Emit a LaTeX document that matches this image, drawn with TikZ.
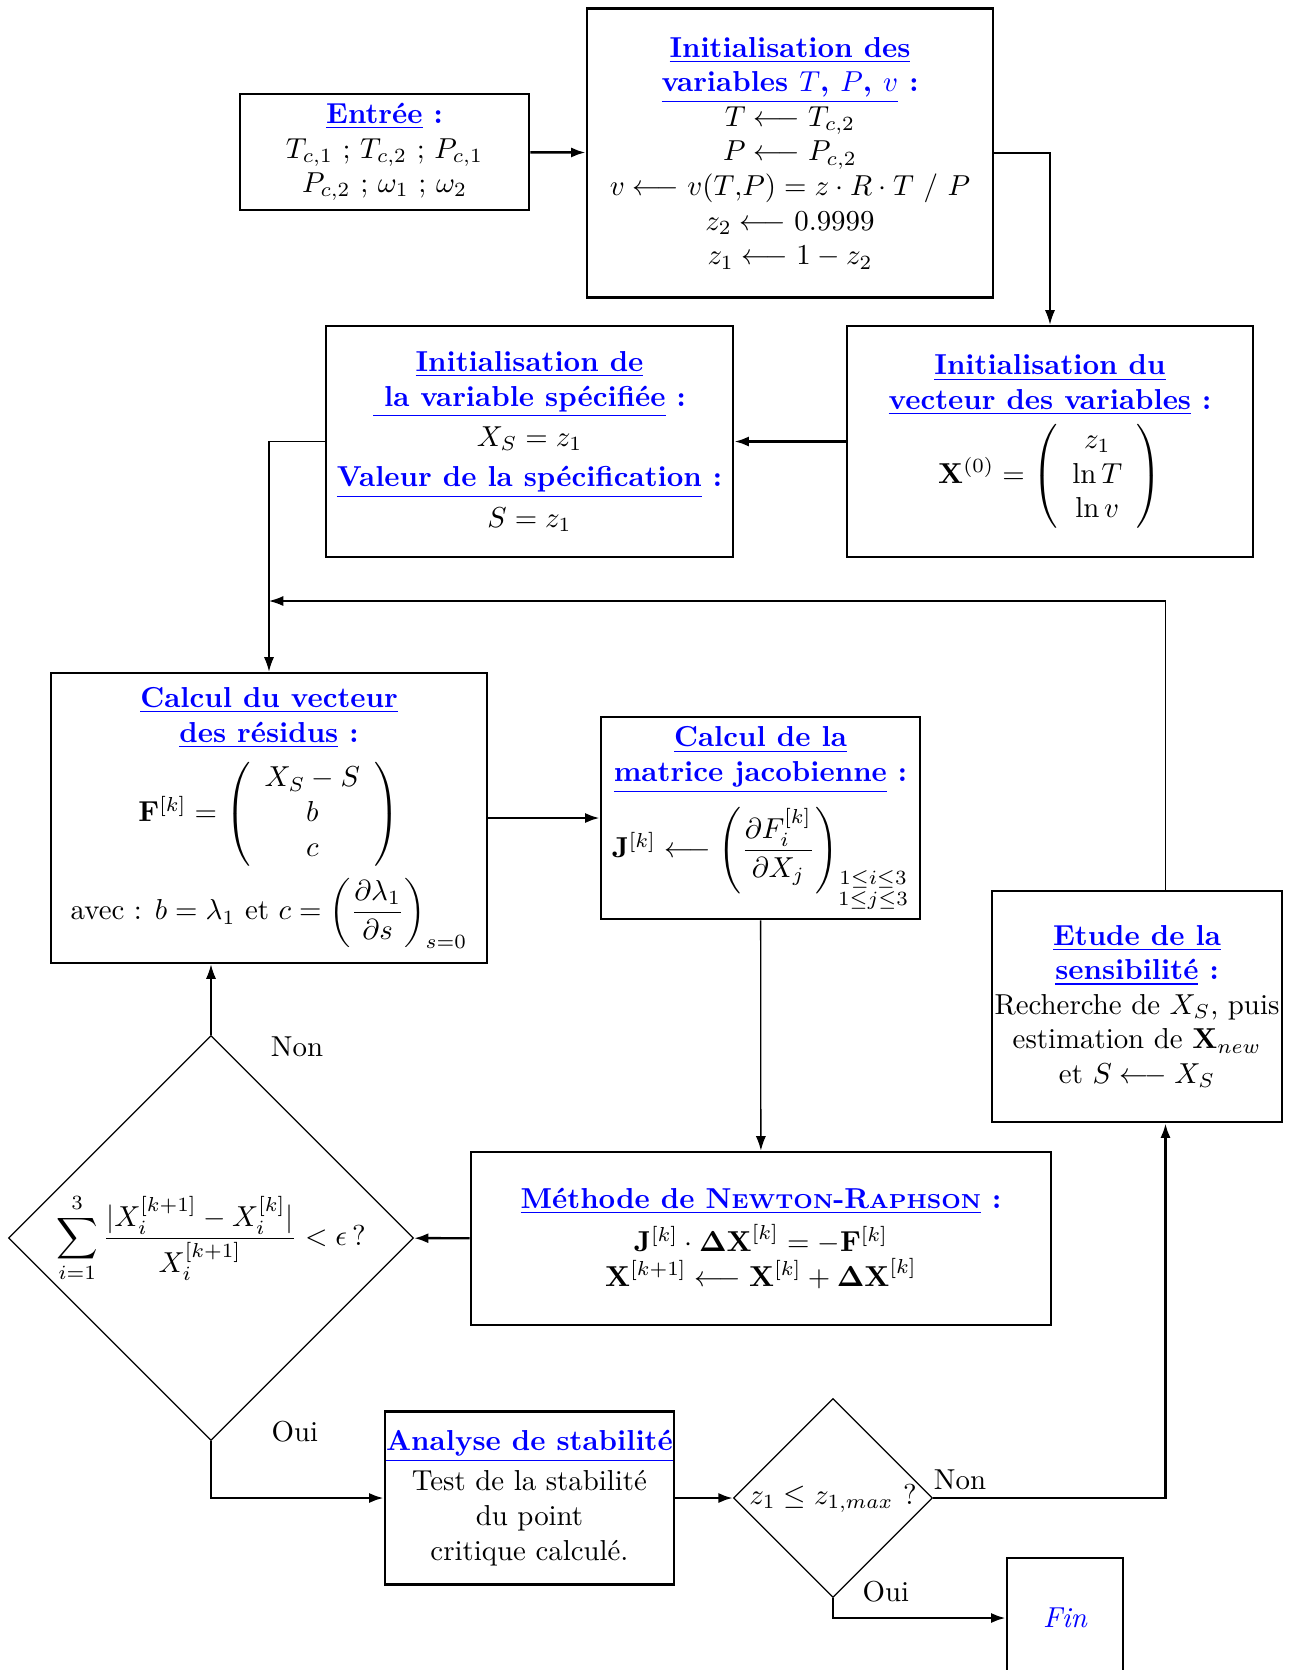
\documentclass[tikz,border=0pt]{standalone}
\usepackage{amsmath,amssymb}
\usetikzlibrary{positioning,arrows.meta,shapes.geometric}
\newcommand{\px}{0.3466pt}
\newcommand{\titre}[1]{\textcolor{blue}{\bfseries\underline{#1}}}
\newcommand{\deuxpts}{\textcolor{blue}{\bfseries\ :}}

\begin{document}
\begin{tikzpicture}[x=\px, y=-\px, >={Latex[length=5pt,width=3.5pt]},
  boite/.style={draw,line width=1pt,align=center,inner sep=2pt},
  losange/.style={draw,diamond,aspect=1,inner sep=0pt,line width=0.45pt},
  fleche/.style={->,line width=0.45pt},
  grosse/.style={->,line width=0.85pt}]
\useasboundingbox (0,0) rectangle (1289,1670);
% les boites
\node[boite,minimum width=289*\px,minimum height=116*\px] (entree) at (384.5,152) {\titre{Entrée}\deuxpts\\ $T_{c,1}$ ; $T_{c,2}$ ; $P_{c,1}$\\ $P_{c,2}$ ; $\omega_1$ ; $\omega_2$};
\node[boite,minimum width=406*\px,minimum height=289*\px] (initvar) at (790,153) {\titre{Initialisation des}\\ \titre{variables $T$, $P$, $v$}\deuxpts\\ $T \longleftarrow T_{c,2}$\\ $P \longleftarrow P_{c,2}$\\ $v \longleftarrow v(T{,}P) = z\cdot R\cdot T\ /\ P$\\ $z_2 \longleftarrow 0.9999$\\ $z_1 \longleftarrow 1 - z_2$};
\node[boite,minimum width=407*\px,minimum height=231*\px] (initspec) at (529.5,441.5) {\titre{Initialisation de}\\ \titre{\ la variable spécifiée}\deuxpts\\[2pt] $X_S = z_1$\\[2pt] \titre{Valeur de la spécification}\deuxpts\\[2pt] $S = z_1$};
\node[boite,minimum width=406*\px,minimum height=231*\px] (initvec) at (1050,441.5) {\titre{Initialisation du}\\ \titre{vecteur des variables}\deuxpts\\[2pt] $\mathbf{X}^{(0)} = \left(\begin{array}{c} z_1\\ \ln T\\ \ln v\end{array}\right)$};
\node[boite,minimum width=436*\px,minimum height=290*\px] (residus) at (269,818) {\titre{Calcul du vecteur}\\ \titre{des résidus}\deuxpts\\[4pt] $\mathbf{F}^{[k]} = \left(\begin{array}{c} X_S - S\\ b\\ c\end{array}\right)$\\[3pt] avec : $b = \lambda_1$ et $c = \left(\dfrac{\partial\lambda_1}{\partial s}\right)_{s=0}$};
\node[boite,minimum width=319*\px,minimum height=202*\px] (jacob) at (760.5,818) {\titre{Calcul de la}\\ \titre{matrice jacobienne}\deuxpts\\[4pt] $\mathbf{J}^{[k]} \longleftarrow \left(\dfrac{\partial F_i^{[k]}}{\partial X_j}\right)_{\substack{1\le i\le 3\\ 1\le j\le 3}}$};
\node[boite,minimum width=290*\px,minimum height=231*\px,inner sep=0pt] (sensib) at (1137,1006.5) {\titre{Etude de la}\\ \titre{sensibilité}\deuxpts\\ Recherche de $X_S$, puis\\ estimation de $\mathbf{X}_{new}$\\ et $S \longleftarrow X_S$};
\node[boite,minimum width=580*\px,minimum height=173*\px] (newton) at (761,1238.5) {\titre{Méthode de N{\scriptsize EWTON}-R{\scriptsize APHSON}}\deuxpts\\[3pt] $\mathbf{J}^{[k]}\cdot\mathbf{\Delta X}^{[k]} = -\mathbf{F}^{[k]}$\\ $\mathbf{X}^{[k+1]} \longleftarrow \mathbf{X}^{[k]} + \mathbf{\Delta X}^{[k]}$};
\node[losange,minimum width=405*\px,minimum height=405*\px,inner sep=-4pt] (test) at (211,1238) {$\displaystyle\sum_{i=1}^{3}\frac{|X_i^{[k+1]} - X_i^{[k]}|}{X_i^{[k+1]}} < \epsilon\,?$};
\node[boite,minimum width=289*\px,minimum height=173*\px,inner sep=0pt] (analyse) at (529.5,1498) {\titre{Analyse de stabilité}\\[2pt] Test de la stabilité\\ du point\\ critique calculé.};
\node[losange,minimum width=199*\px,minimum height=199*\px] (zmax) at (833,1498) {$z_1 \le z_{1,max}$ ?};
\node[boite,minimum width=116*\px,minimum height=120*\px] (fin) at (1065,1618) {\textcolor{blue}{\itshape Fin}};
% les etiquettes
\node (non1) at (297,1047) {Non};
\node (oui1) at (295,1432) {Oui};
\node (non2) at (960,1480) {Non};
\node (oui2) at (886,1591.5) {Oui};
\coordinate (retour) at (1165.5,601);
\coordinate (jonction) at (269,601);
% les fleches
\draw[grosse] (entree) -- (initvar);
\draw[fleche] (initvar.east) -| (initvec.north);
\draw[grosse] (initvec) -- (initspec);
\draw[fleche] (initspec.west) -| (residus.north);
\draw[fleche] (sensib.north -| retour) |- (jonction);
\draw[grosse] (residus) -- (jacob);
\draw[fleche] (jacob) -- (newton);
\draw[grosse] (newton) -- (test);
\draw[fleche] (test.north) -- (residus.south -| test.north);
\draw[grosse] (test.south) |- (analyse.west);
\draw[grosse] (analyse) -- (zmax);
\draw[grosse] (zmax.east) -| (sensib.south -| retour);
\draw[grosse] (zmax.south) |- (fin.west);
\end{tikzpicture}
\end{document}
